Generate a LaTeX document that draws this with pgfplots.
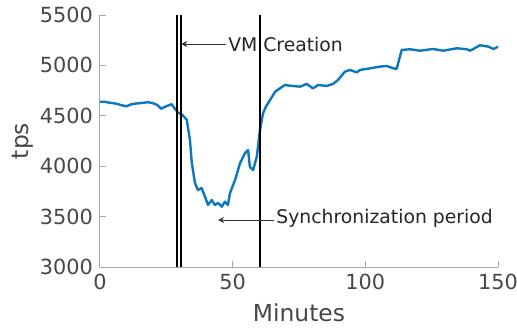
\documentclass[border=0pt]{standalone}
\usepackage{fontspec}
\setmainfont{DejaVu Sans}
\usepackage{pgfplots}
\pgfplotsset{compat=1.18}
\usetikzlibrary{arrows.meta}
\definecolor{mblue}{HTML}{0A78BE}
\begin{document}
\begin{tikzpicture}
\begin{axis}[
  name=ax, at={(0,0)}, anchor=south west,
  scale only axis, width=199pt, height=126pt,
  xmin=0, xmax=150, ymin=3000, ymax=5500,
  xtick={0,50,100,150}, ytick={3000,3500,4000,4500,5000,5500},
  axis lines*=left,
  axis line style={gray!70, line width=0.5pt},
  tick style={gray!70, line width=0.5pt},
  tick align=inside, major tick length=3pt,
  /pgf/number format/1000 sep={},
  /pgf/number format/assume math mode=true,
  ticklabel style={font=\fontsize{10.4}{12}\selectfont, text=black!72},
  xlabel={Minutes}, ylabel={tps},
  label style={font=\fontsize{11.7}{14}\selectfont, text=black!72},
  xlabel style={yshift=0pt},
  ylabel style={yshift=-3.5pt},
  clip=false,
]
\addplot[mblue, line width=1.2pt, line join=round] coordinates {
(0,4640) (2,4638) (3.5,4630) (5,4625) (6.5,4618) (8,4605) (10,4595) (11.5,4612) (13,4620)
(16,4628) (18,4635) (19.5,4628) (21,4615) (22,4598) (23,4570) (25,4595) (27,4615)
(28.5,4560) (29.5,4530) (31,4510)
(32.7,4460) (33.9,4260) (34.6,4032) (35.8,3833) (36.9,3764) (38.3,3784)
(39.6,3694) (40.7,3615) (42.1,3665) (43.3,3615) (44.5,3635) (45.9,3598)
(47.1,3648) (48.2,3615) (49.0,3734) (50.9,3863) (52.8,4032) (54.7,4131)
(55.8,4161) (56.5,3992) (57.7,3962) (59.1,4095) (60.3,4360) (61.4,4520)
(62.5,4590) (64.1,4657) (66.0,4739) (67.8,4772) (69.7,4806) (71.2,4800) (72.7,4796)
(75.4,4789) (77.9,4816) (80.3,4772) (82.2,4806) (85.4,4796) (87.8,4816)
(89.7,4855) (92.3,4938) (94.2,4955) (96.8,4931) (98.0,4955) (101.8,4971)
(105.5,4988) (108.1,4994) (110.6,4971) (111.8,4965) (113.7,5153) (116.8,5160)
(120.6,5146) (125.5,5163) (129.4,5146) (134.5,5170) (138.2,5160) (139.5,5146)
(143.2,5200) (146.4,5186) (148.3,5163) (150,5185)
};
\addplot[black, line width=0.6pt] coordinates {(29.0,3000) (29.0,5500)};
\addplot[black, line width=0.6pt] coordinates {(30.5,3000) (30.5,5500)};
\addplot[black, line width=0.6pt] coordinates {(60.3,3000) (60.3,5500)};
\draw[black!80, line width=0.5pt, -{Stealth[length=3pt,width=3pt]}] (axis cs:47.3,5212) -- (axis cs:30.6,5212);
\node[anchor=west, inner sep=0pt, font=\fontsize{9.4}{11}\selectfont, text=black!85] at (axis cs:48.2,5212) {VM Creation};
\draw[black!80, line width=0.5pt, -{Stealth[length=3pt,width=3pt]}] (axis cs:65.5,3466) -- (axis cs:44.5,3466);
\node[anchor=west, inner sep=0pt, font=\fontsize{9.4}{11}\selectfont, text=black!85] at (axis cs:66.3,3480) {Synchronization period};
\end{axis}
\pgfresetboundingbox
\path (-50pt,-30pt) rectangle (208.5pt,133.5pt);
\end{tikzpicture}
\end{document}
